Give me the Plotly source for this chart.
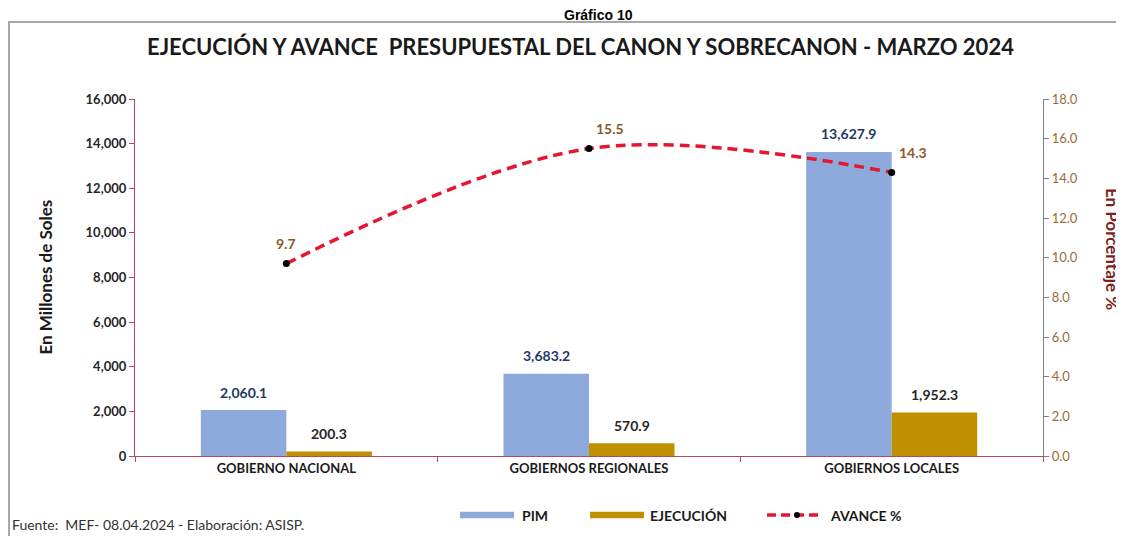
import plotly.graph_objects as go

# datos del grafico
categorias = ["GOBIERNO NACIONAL", "GOBIERNOS REGIONALES", "GOBIERNOS LOCALES"]
pim = [2060.1, 3683.2, 13627.9]
ejecucion = [200.3, 570.9, 1952.3]
avance = [9.7, 15.5, 14.3]

FONT = "Lato"
ROJO_EJE = "#B5485D"

# pixeles de pantalla -> coordenadas paper (area de trazado: x 135-1043, y 99-456)
def px(x):
    return (x - 135) / 908

def py(y):
    return (456 - y) / 357

fig = go.Figure()
fig.add_trace(go.Bar(x=categorias, y=pim, name="PIM", marker_color="#8EA9DB",
                     marker_line_width=0))
fig.add_trace(go.Bar(x=categorias, y=ejecucion, name="EJECUCIÓN", marker_color="#BF9000",
                     marker_line_width=0))
fig.add_trace(go.Scatter(x=categorias, y=avance, name="AVANCE %", yaxis="y2",
                         mode="lines+markers",
                         line=dict(color="#E8152E", width=3.5, dash="10px,6px",
                                   shape="spline", smoothing=1),
                         marker=dict(color="black", size=7)))

# etiquetas de datos
annots = []
for c, v in zip(categorias, pim):
    annots.append(dict(x=c, y=v, text=f"{v:,.1f}", showarrow=False, xshift=-43, yshift=18,
                       font=dict(family=FONT, size=14, color="#1F3864", weight="bold")))
for c, v in zip(categorias, ejecucion):
    annots.append(dict(x=c, y=v, text=f"{v:,.1f}", showarrow=False, xshift=43, yshift=18,
                       font=dict(family=FONT, size=14, color="#262626", weight="bold")))
for i, (c, v) in enumerate(zip(categorias, avance)):
    annots.append(dict(x=c, y=v, yref="y2", text=f"{v:.1f}", showarrow=False,
                       xshift=0 if i == 0 else 21, yshift=20,
                       font=dict(family=FONT, size=14, color="#8B5A2B", weight="bold")))

# titulos y textos
annots += [
    dict(x=0.491, y=py(46), xref="paper", yref="paper", showarrow=False, yanchor="middle",
         text="EJECUCIÓN Y AVANCE  PRESUPUESTAL DEL CANON Y SOBRECANON - MARZO 2024",
         font=dict(family=FONT, size=22, color="#1a1a1a", weight="bold")),
    dict(x=0.51, y=py(15), xref="paper", yref="paper", showarrow=False,
         yanchor="middle", text="Gráfico 10", borderpad=0,
         font=dict(family="Liberation Sans", size=14, color="black", weight="bold")),
    dict(x=px(45), y=0.5, xref="paper", yref="paper", showarrow=False, textangle=-90,
         xanchor="center", yanchor="middle", text="En Millones de Soles",
         font=dict(family=FONT, size=17, color="#1a1a1a", weight="bold")),
    dict(x=px(1112), y=0.58, xref="paper", yref="paper", showarrow=False, textangle=90,
         xanchor="center", yanchor="middle", text="En Porcentaje %",
         font=dict(family=FONT, size=17, color="#7B1F1F", weight="bold")),
    dict(x=px(10), y=py(524), xref="paper", yref="paper", showarrow=False,
         xanchor="left", yanchor="middle",
         text="Fuente:  MEF- 08.04.2024 - Elaboración: ASISP.",
         font=dict(family=FONT, size=14, color="#333333")),
]

# leyenda manual
ley_y = py(515)
shapes = [
    dict(type="rect", xref="paper", yref="paper", x0=px(9), x1=px(1120), y0=-0.3,
         y1=py(22), line=dict(color="#8c8c8c", width=1.5), fillcolor="rgba(0,0,0,0)"),
    dict(type="rect", xref="paper", yref="paper", x0=px(460), x1=px(514), y0=ley_y - 0.009,
         y1=ley_y + 0.009, line_width=0, fillcolor="#8EA9DB"),
    dict(type="rect", xref="paper", yref="paper", x0=px(590), x1=px(644), y0=ley_y - 0.009,
         y1=ley_y + 0.009, line_width=0, fillcolor="#BF9000"),
    dict(type="line", xref="paper", yref="paper", x0=px(767), x1=px(823), y0=ley_y, y1=ley_y,
         line=dict(color="#E8152E", width=3.5, dash="9px,5px")),
    dict(type="circle", xref="paper", yref="paper", x0=px(794), x1=px(800),
         y0=ley_y - 0.0085, y1=ley_y + 0.0085, line_width=0, fillcolor="black"),
]
for x0, t in [(520, "PIM"), (648, "EJECUCIÓN"), (828, "AVANCE %")]:
    annots.append(dict(x=px(x0), y=ley_y, xref="paper", yref="paper", showarrow=False,
                       xanchor="left", yanchor="middle", text=t,
                       font=dict(family=FONT, size=14, color="#1a1a1a", weight="bold")))

# la pagina tiene 8px de margen en el body: se compensa en los margenes
fig.update_layout(
    width=1124, height=536, autosize=False,
    margin=dict(l=127, r=89, t=91, b=88),
    plot_bgcolor="white", paper_bgcolor="white",
    barmode="group", bargap=0.435, bargroupgap=0,
    showlegend=False,
    annotations=annots, shapes=shapes,
    xaxis=dict(showline=True, linecolor=ROJO_EJE, linewidth=1.2, ticks="outside",
               tickson="boundaries", ticklen=5, tickcolor=ROJO_EJE,
               tickfont=dict(family=FONT, size=13, color="#1a1a1a", weight="bold")),
    yaxis=dict(range=[0, 16000], dtick=2000, tickformat=",", showgrid=False, zeroline=False,
               showline=True, linecolor=ROJO_EJE, linewidth=1.2, ticks="outside", ticklen=5,
               tickcolor=ROJO_EJE,
               tickfont=dict(family=FONT, size=13, color="#262626", weight="bold")),
    yaxis2=dict(range=[0, 18], dtick=2, tickformat=".1f", overlaying="y", side="right",
                showgrid=False, zeroline=False, showline=True, linecolor="#7f7f7f",
                linewidth=1.2, ticks="outside", ticklen=5, tickcolor="#7f7f7f",
                tickfont=dict(family=FONT, size=13, color="#9A6B3A")),
)

fig.write_html("out.html")
